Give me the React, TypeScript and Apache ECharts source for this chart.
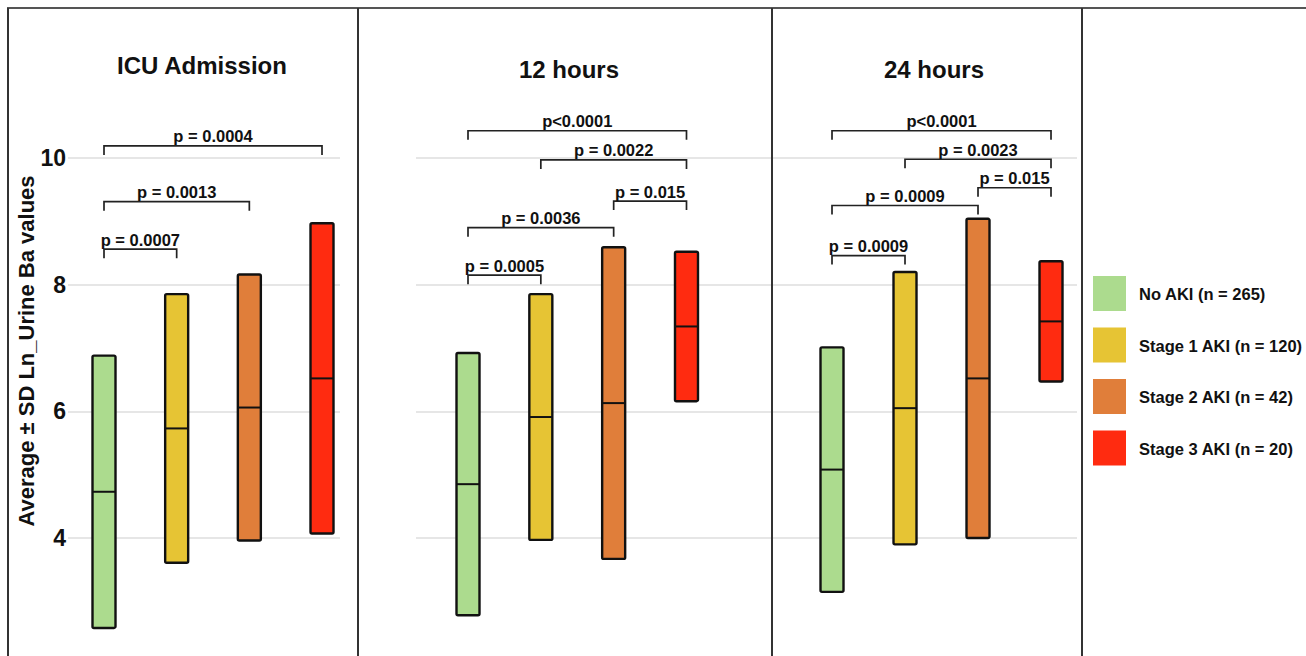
import React, { useEffect, useRef } from "react";
import * as echarts from "echarts";

// ---- Data ----
const timepoints = ["ICU Admission", "12 hours", "24 hours"];
const groups = [
  "No AKI (n = 265)",
  "Stage 1 AKI (n = 120)",
  "Stage 2 AKI (n = 42)",
  "Stage 3 AKI (n = 20)",
];
const groupColors = ["#acdb8e", "#e6c434", "#e07e3a", "#ff2b10"];

// mean and SD per group, one value per timepoint
const meanNoAki = [4.73, 4.85, 5.08];
const sdNoAki = [2.15, 2.07, 1.93];
const meanStage1 = [5.73, 5.91, 6.05];
const sdStage1 = [2.12, 1.94, 2.15];
const meanStage2 = [6.06, 6.13, 6.52];
const sdStage2 = [2.1, 2.46, 2.52];
const meanStage3 = [6.52, 7.34, 7.42];
const sdStage3 = [2.45, 1.18, 0.95];

const yTicks = [4, 6, 8, 10];

// brackets: [fromGroup, toGroup, level, label]
const icuBrackets: [number, number, number, string][] = [
  [1, 4, 10.19, "p = 0.0004"],
  [1, 3, 9.31, "p = 0.0013"],
  [1, 2, 8.56, "p = 0.0007"],
];
const h12Brackets: [number, number, number, string][] = [
  [1, 4, 10.43, "p<0.0001"],
  [2, 4, 9.97, "p = 0.0022"],
  [3, 4, 9.32, "p = 0.015"],
  [1, 3, 8.9, "p = 0.0036"],
  [1, 2, 8.15, "p = 0.0005"],
];
const h24Brackets: [number, number, number, string][] = [
  [1, 4, 10.43, "p<0.0001"],
  [2, 4, 9.98, "p = 0.0023"],
  [3, 4, 9.53, "p = 0.015"],
  [1, 3, 9.25, "p = 0.0009"],
  [1, 2, 8.46, "p = 0.0009"],
];

const FONT = '"Liberation Sans", Arial, Helvetica, sans-serif';
const INK = "#111";

export default function App() {
  const ref = useRef<HTMLDivElement>(null);

  useEffect(() => {
    if (!ref.current) return;
    const chart = echarts.init(ref.current, undefined, { renderer: "svg" });

    const means = [meanNoAki, meanStage1, meanStage2, meanStage3];
    const sds = [sdNoAki, sdStage1, sdStage2, sdStage3];
    const bracketSets = [icuBrackets, h12Brackets, h24Brackets];

    // layout per panel
    const gridLefts = [68, 416, 772];
    const gridWidths = [272, 356, 305];
    const xMins = [0.5046, 0.286, 0.178];
    const xMaxs = [4.2476, 5.174, 4.356];
    const titleX = [202, 569, 934];
    const titleY = [65, 69, 69];

    const grids = gridLefts.map((l, i) => ({
      left: l,
      width: gridWidths[i],
      top: 31.33,
      height: 633.33,
      containLabel: false,
    }));

    const xAxes = gridLefts.map((_, i) => ({
      type: "value",
      gridIndex: i,
      min: xMins[i],
      max: xMaxs[i],
      show: false,
    }));

    const yAxes = gridLefts.map((_, i) => ({
      type: "value",
      gridIndex: i,
      min: 2,
      max: 12,
      interval: 2,
      axisLine: { show: false },
      axisTick: { show: false },
      axisLabel: {
        show: i === 0,
        showMinLabel: false,
        showMaxLabel: false,
        fontSize: 23,
        fontWeight: "bold",
        fontFamily: FONT,
        color: INK,
        margin: 2,
        formatter: (v: number) => (yTicks.includes(v) ? String(v) : ""),
      },
      splitLine: {
        show: true,
        showMinLine: false,
        showMaxLine: false,
        lineStyle: { color: "#dedede", width: 1.5 },
      },
    }));

    const series: any[] = [];
    timepoints.forEach((_, p) => {
      series.push({
        type: "custom",
        xAxisIndex: p,
        yAxisIndex: p,
        clip: false,
        data: groups.map((_, g) => [g + 1, means[g][p], sds[g][p]]),
        encode: { x: 0, y: 1 },
        renderItem: (params: any, api: any) => {
          const x = api.value(0);
          const m = api.value(1);
          const s = api.value(2);
          const top = api.coord([x, m + s]);
          const bot = api.coord([x, m - s]);
          const mid = api.coord([x, m]);
          const w = 23;
          return {
            type: "group",
            children: [
              {
                type: "rect",
                shape: { x: top[0] - w / 2, y: top[1], width: w, height: bot[1] - top[1], r: 1.5 },
                style: { fill: groupColors[params.dataIndex], stroke: INK, lineWidth: 2.4 },
              },
              {
                type: "line",
                shape: { x1: mid[0] - w / 2, y1: mid[1], x2: mid[0] + w / 2, y2: mid[1] },
                style: { stroke: INK, lineWidth: 2 },
              },
            ],
          };
        },
      });
      const br = bracketSets[p];
      series.push({
        type: "custom",
        xAxisIndex: p,
        yAxisIndex: p,
        clip: false,
        data: br.map((b) => [b[0], b[1], b[2]]),
        encode: { x: [0, 1], y: 2 },
        renderItem: (params: any, api: any) => {
          const a = api.coord([api.value(0), api.value(2)]);
          const b = api.coord([api.value(1), api.value(2)]);
          const tick = 9;
          const label = br[params.dataIndex][3];
          return {
            type: "group",
            children: [
              {
                type: "polyline",
                shape: {
                  points: [
                    [a[0], a[1] + tick],
                    [a[0], a[1]],
                    [b[0], a[1]],
                    [b[0], a[1] + tick],
                  ],
                },
                style: { fill: "none", stroke: "#222", lineWidth: 1.7 },
              },
              {
                type: "text",
                x: (a[0] + b[0]) / 2,
                y: a[1] - 1,
                style: {
                  text: label,
                  align: "center",
                  verticalAlign: "bottom",
                  textAlign: "center",
                  textVerticalAlign: "bottom",
                  font: `bold 16.5px ${FONT}`,
                  fill: INK,
                },
              },
            ],
          };
        },
      });
    });

    const graphics: any[] = [];
    // frame
    graphics.push({
      type: "line",
      shape: { x1: 7, y1: 8, x2: 1306, y2: 8 },
      style: { stroke: "#555", lineWidth: 2 },
      z: 100,
    });
    [8, 358, 772, 1082].forEach((x) => {
      graphics.push({
        type: "line",
        shape: { x1: x, y1: 8, x2: x, y2: 700 },
        style: { stroke: "#333", lineWidth: 2 },
        z: 100,
      });
    });
    // panel titles
    timepoints.forEach((t, i) => {
      graphics.push({
        type: "text",
        x: titleX[i],
        y: titleY[i],
        style: {
          text: t,
          align: "center",
          verticalAlign: "middle",
          textAlign: "center",
          textVerticalAlign: "middle",
          font: `bold 24px ${FONT}`,
          fill: INK,
        },
      });
    });
    // y axis title
    graphics.push({
      type: "text",
      x: 26,
      y: 351,
      rotation: Math.PI / 2,
      style: {
        text: "Average ± SD Ln_Urine Ba values",
        align: "center",
        verticalAlign: "middle",
        textAlign: "center",
        textVerticalAlign: "middle",
        font: `bold 22px ${FONT}`,
        fill: INK,
      },
    });
    // legend
    groups.forEach((g, i) => {
      const y0 = 276 + i * 51.5;
      graphics.push({
        type: "rect",
        shape: { x: 1093, y: y0, width: 33, height: 35 },
        style: { fill: groupColors[i] },
      });
      graphics.push({
        type: "text",
        x: 1139,
        y: y0 + 18,
        style: {
          text: g,
          align: "left",
          verticalAlign: "middle",
          textAlign: "left",
          textVerticalAlign: "middle",
          font: `bold 16.5px ${FONT}`,
          fill: INK,
        },
      });
    });

    chart.setOption({
      animation: false,
      backgroundColor: "#fff",
      grid: grids,
      xAxis: xAxes,
      yAxis: yAxes,
      series,
      graphic: graphics,
    });

    return () => chart.dispose();
  }, []);

  return (
    <div
      ref={ref}
      style={{ position: "fixed", left: 0, top: 0, width: 1306, height: 720 }}
    />
  );
}
